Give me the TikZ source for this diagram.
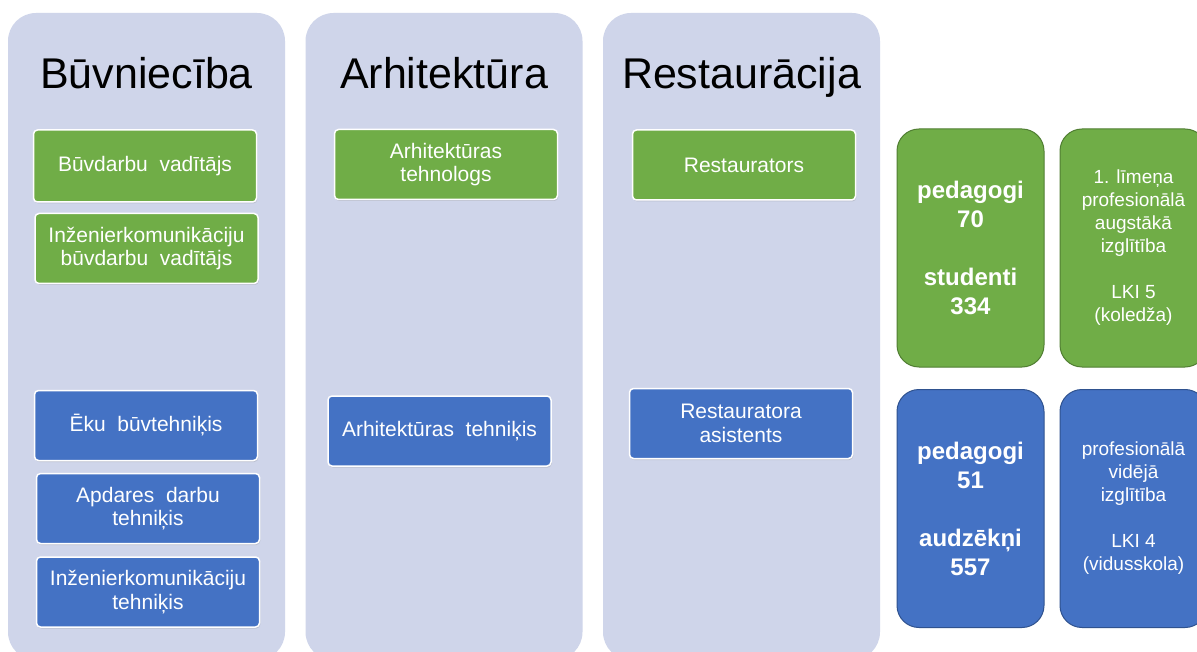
\documentclass[tikz,border=0pt]{standalone}
\usepackage{fontspec}
\setmainfont{Liberation Sans}
\usetikzlibrary{shadows}
\definecolor{colbg}{HTML}{CFD5EA}
\definecolor{itemgreen}{HTML}{70AD47}
\definecolor{itemblue}{HTML}{4472C4}
\definecolor{edgegreen}{HTML}{507E32}
\definecolor{edgeblue}{HTML}{2F528F}
\tikzset{
  colbox/.style={fill=colbg, rounded corners=28pt, minimum width=277pt,
                 minimum height=647pt, inner sep=0pt},
  coltitle/.style={anchor=base, font=\fontsize{43}{48}\selectfont},
  item/.style={draw=white, line width=1.5pt, rounded corners=4pt, text=white,
               align=center, inner sep=0pt, minimum width=223pt, minimum height=70pt,
               font=\fontsize{21}{23.5}\selectfont,
               drop shadow={opacity=0.25, shadow xshift=0.8pt, shadow yshift=-1.5pt}},
  greenitem/.style={item, fill=itemgreen},
  blueitem/.style={item, fill=itemblue},
  stat/.style={rounded corners=22pt, line width=1pt, text=white, align=center,
               minimum width=147pt, minimum height=238pt, inner sep=0pt},
  greenstat/.style={stat, fill=itemgreen, draw=edgegreen},
  bluestat/.style={stat, fill=itemblue, draw=edgeblue},
  countfont/.style={font=\fontsize{24}{29}\selectfont\bfseries},
  levelfont/.style={font=\fontsize{19}{23}\selectfont}
}

\begin{document}
\begin{tikzpicture}[x=1pt, y=-1pt]
  \useasboundingbox[fill=white] (0,0) rectangle (1197,652);

  % kolonnas
  \node[colbox] (col1) at (146.5,336.5) {};
  \node[colbox] (col2) at (444,336.5) {};
  \node[colbox] (col3) at (741.5,336.5) {};

  \node[coltitle] (t1) at (146.5,89) {Būvniecība};
  \node[coltitle] (t2) at (444,89) {Arhitektūra};
  \node[coltitle] (t3) at (741.5,89) {Restaurācija};

  % LKI 5 programmas
  \node[greenitem, minimum height=72pt] (bvad) at (145,166) {Būvdarbu\ \ vadītājs};
  \node[greenitem] (ibvad) at (146.5,248.5) {Inženierkomunikāciju\\būvdarbu\ \ vadītājs};
  \node[greenitem] (atehn) at (446,164.5) {Arhitektūras\\tehnologs};
  \node[greenitem] (rest) at (744,165) {Restaurators};

  % LKI 4 programmas
  \node[blueitem] (ekub) at (146,425.5) {Ēku\ \ būvtehniķis};
  \node[blueitem] (apd) at (148,508.5) {Apdares\ \ darbu\\tehniķis};
  \node[blueitem] (intehn) at (148,592) {Inženierkomunikāciju\\tehniķis};
  \node[blueitem] (atehnk) at (439.5,431) {Arhitektūras\ \ tehniķis};
  \node[blueitem] (rasist) at (741,423.5) {Restauratora\\asistents};

  % skaitļi
  \node[greenstat, countfont] (kol) at (970.5,248) {pedagogi\\70\\[29pt]studenti\\334};
  \node[greenstat, levelfont] (kolinfo) at (1133.5,248)
    {1. līmeņa\\profesionālā\\augstākā\\izglītība\\[23pt]LKI 5\\(koledža)};
  \node[bluestat, countfont] (vid) at (970.5,508.5) {pedagogi\\51\\[29pt]audzēkņi\\557};
  \node[bluestat, levelfont] (vidinfo) at (1133.5,508.5)
    {profesionālā\\vidējā\\izglītība\\[23pt]LKI 4\\(vidusskola)};
\end{tikzpicture}
\end{document}
